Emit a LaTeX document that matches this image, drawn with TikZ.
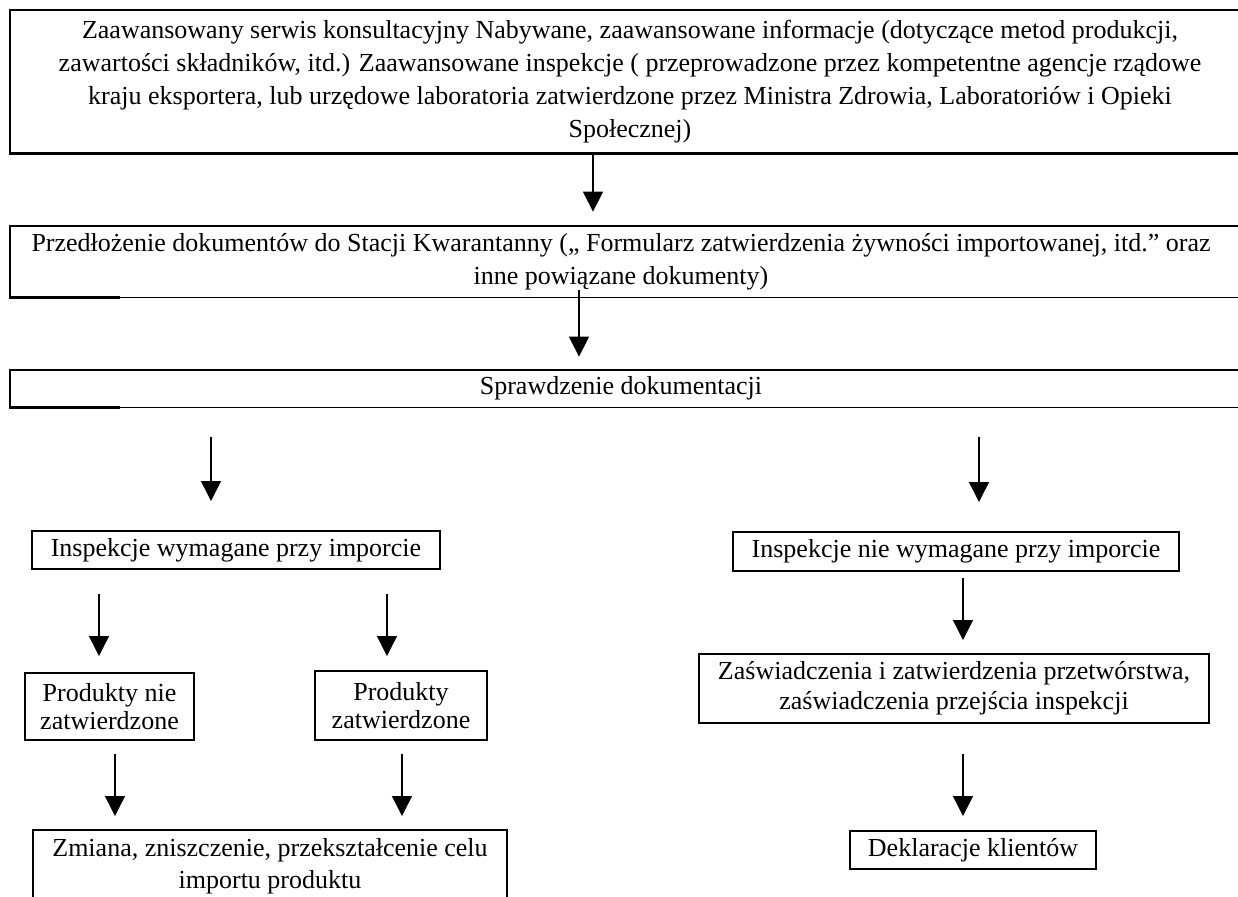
\documentclass[tikz,border=0pt]{standalone}
\usepackage{fontspec}
\setmainfont{Liberation Serif}
\usetikzlibrary{arrows.meta}
\tikzset{
  box/.style={draw,line width=1pt,inner sep=0pt,align=center},
  openbox/.style={inner sep=0pt,align=center},
  cell/.style={line width=1.1pt},
  thinrule/.style={line width=0.5pt},
  arr/.style={line width=0.7pt,-{Triangle[width=10pt,length=10pt]}}
}
\begin{document}
\begin{tikzpicture}[x=0.5pt,y=-0.5pt,font=\fontsize{13}{16.5}\selectfont]
\useasboundingbox (0,0) rectangle (1238,896);
\clip (0,0) rectangle (1238,896);
\node[openbox,minimum width=620pt,minimum height=71.5pt] (zaaw) at (630,81.5) {Zaawansowany serwis konsultacyjny Nabywane, zaawansowane informacje (dotyczące metod produkcji,\\zawartości składników, itd.) Zaawansowane inspekcje ( przeprowadzone przez kompetentne agencje rządowe\\kraju eksportera, lub urzędowe laboratoria zatwierdzone przez Ministra Zdrowia, Laboratoriów i Opieki\\Społecznej)};
\node[openbox,minimum width=611pt,minimum height=35.5pt] (przed) at (621,261.5) {Przedłożenie dokumentów do Stacji Kwarantanny („ Formularz zatwierdzenia żywności importowanej, itd." oraz\\inne powiązane dokumenty)};
\node[openbox,minimum width=611pt,minimum height=18.5pt] (spraw) at (621,388.5) {Sprawdzenie dokumentacji};
\draw[cell] (zaaw.north west -| 1250,0) -- (zaaw.north west) -- (zaaw.south west) -- (zaaw.south west -| 1250,0);
\foreach \n in {przed,spraw} {
  \draw[cell] (\n.north west -| 1250,0) -- (\n.north west) -- (\n.south west) -- ([xshift=55pt]\n.south west);
  \draw[thinrule] ([xshift=55pt]\n.south west) -- (\n.south west -| 1250,0);
}
\node[box,minimum width=204pt,minimum height=19pt] (wym) at (236,550) {Inspekcje wymagane przy imporcie};
\node[box,minimum width=223pt,minimum height=19.5pt] (niewym) at (956,551.5) {Inspekcje nie wymagane przy imporcie};
\node[box,minimum width=84.5pt,minimum height=33.5pt,font=\fontsize{13}{14}\selectfont] (niezatw) at (109.5,706.5) {Produkty nie\\zatwierdzone};
\node[box,minimum width=86pt,minimum height=34.5pt,font=\fontsize{13}{14}\selectfont] (zatw) at (401,705.5) {Produkty\\zatwierdzone};
\node[box,minimum width=255pt,minimum height=34.5pt,font=\fontsize{13}{15}\selectfont] (zasw) at (954,688.5) {Zaświadczenia i zatwierdzenia przetwórstwa,\\zaświadczenia przejścia inspekcji};
\node[box,minimum width=237pt,minimum height=36pt,font=\fontsize{13}{16}\selectfont] (zmiana) at (270,866) {Zmiana, zniszczenie, przekształcenie celu\\importu produktu};
\node[box,minimum width=123pt,minimum height=19pt] (dekl) at (973,850) {Deklaracje klientów};
\draw[arr,shorten >=7pt] (zaaw.south -| 593,0) -- (przed.north -| 593,0);
\draw[arr,shorten <=-3.5pt,shorten >=6.5pt] (przed.south -| 579,0) -- (spraw.north -| 579,0);
\foreach \x/\n in {211/wym,979/niewym}
  \draw[arr,shorten <=15pt,shorten >=14.5pt] (spraw.south -| \x,0) -- (\n.north -| \x,0);
\draw[arr,shorten <=12pt,shorten >=8pt] (wym.south -| 99,0) -- (niezatw.north -| 99,0);
\draw[arr,shorten <=12pt,shorten >=7pt] (wym.south -| 387,0) -- (zatw.north -| 387,0);
\draw[arr,shorten <=3pt,shorten >=6.5pt] (niewym.south -| 963,0) -- (zasw.north -| 963,0);
\draw[arr,shorten <=6.5pt,shorten >=6.5pt] (niezatw.south -| 115,0) -- (zmiana.north -| 115,0);
\draw[arr,shorten <=6.5pt,shorten >=6.5pt] (zatw.south -| 402,0) -- (zmiana.north -| 402,0);
\draw[arr,shorten <=15pt,shorten >=7pt] (zasw.south -| 963,0) -- (dekl.north -| 963,0);
\end{tikzpicture}
\end{document}
